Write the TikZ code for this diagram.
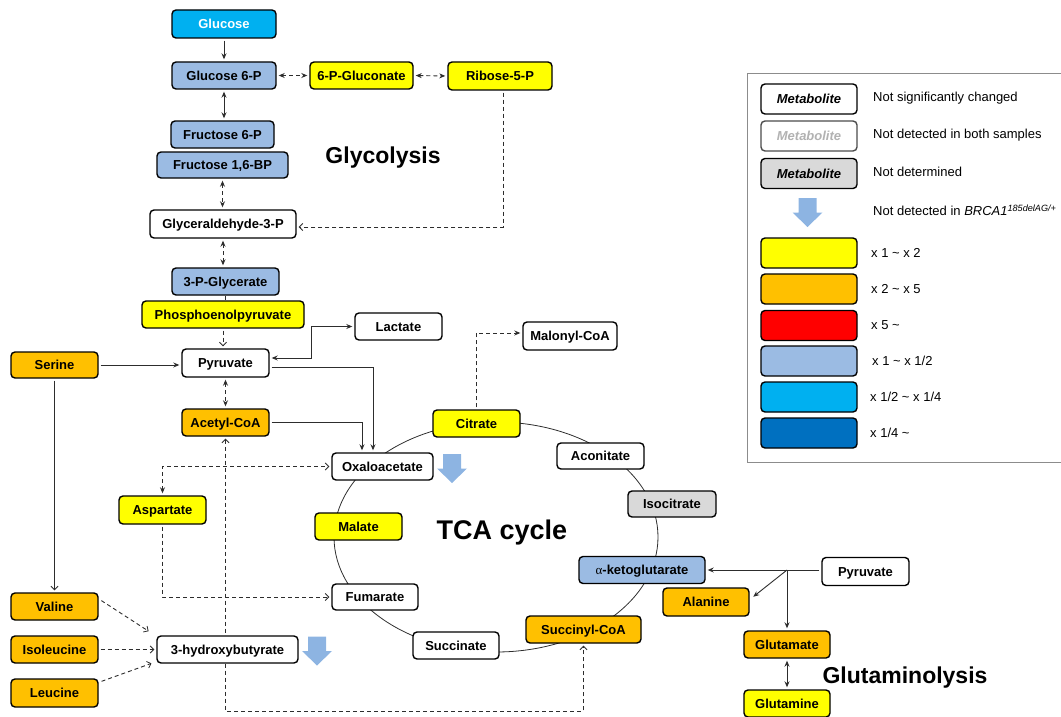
\documentclass[tikz,border=0pt]{standalone}
\usepackage{fontspec}
\setmainfont{Liberation Sans}
\newfontfamily\symf{Liberation Serif}
\usetikzlibrary{arrows.meta,calc}
\pgfdeclarelayer{background}
\pgfsetlayers{background,main}
\definecolor{cyanb}{RGB}{0,176,240}
\definecolor{lblue}{RGB}{155,187,227}
\definecolor{dblue}{RGB}{0,112,192}
\definecolor{orng}{RGB}{255,192,0}
\definecolor{ylw}{RGB}{255,255,0}
\definecolor{gry}{RGB}{217,217,217}
\definecolor{arrblue}{RGB}{141,180,226}
\definecolor{linec}{RGB}{45,45,45}
\tikzset{
  tf/.tip={Stealth[length=6pt,width=5pt]},
  opn/.tip={Straight Barb[length=3.5pt,width=7pt,line width=0.8pt]},
  bluearrow/.pic={\fill[arrblue] (-9,-14.5) -- (9,-14.5) -- (9,0) -- (15,0) -- (0,14.5) -- (-15,0) -- (-9,0) -- cycle;}
}
\begin{document}
\begin{tikzpicture}[x=1pt,y=-1pt,
  met/.style={draw=black, line width=1.4pt, rounded corners=4pt, minimum height=27pt,
    inner sep=0pt, text height=9.4pt, text depth=0pt, fill=white,
    font=\fontsize{13}{15}\selectfont\bfseries},
  yl/.style={met, fill=ylw},
  og/.style={met, fill=orng},
  lb/.style={met, fill=lblue},
  sol/.style={draw=linec, line width=0.9pt, shorten >=2pt, shorten <=2pt},
  dsh/.style={sol, dash pattern=on 4pt off 3pt},
  lgt/.style={anchor=west, inner sep=0pt, font=\fontsize{13}{15}\selectfont},
  ttl/.style={anchor=base, inner sep=0pt}
]
\useasboundingbox (0,0) rectangle (1061,717);

% ---- nodes ----
\node[met, fill=cyanb, text=white, minimum width=104pt, minimum height=28pt] (glc) at (224,24) {Glucose};
\node[lb, minimum width=104pt] (g6p) at (224,75.5) {Glucose 6-P};
\node[yl, minimum width=103pt] (pg6) at (361.5,75.5) {6-P-Gluconate};
\node[yl, minimum width=104pt, minimum height=28pt] (r5p) at (500,76) {Ribose-5-P};
\node[lb, minimum width=103pt] (f6p) at (222.5,134.5) {Fructose 6-P};
\node[lb, minimum width=131pt, minimum height=26pt] (f16) at (222.5,165) {Fructose 1,6-BP};
\node[met, minimum width=146pt, minimum height=28pt] (ga3p) at (223,224) {Glyceraldehyde-3-P};
\node[lb, minimum width=107pt] (pg3) at (225.5,281.5) {3-P-Glycerate};
\node[yl, minimum width=162pt] (pep) at (223,314.5) {Phosphoenolpyruvate};
\node[met, minimum width=87pt] (lac) at (398.5,326.5) {Lactate};
\node[met, minimum width=94pt, minimum height=28pt] (mal) at (570,336) {Malonyl-CoA};
\node[og, minimum width=87pt, minimum height=26pt] (ser) at (54.5,365) {Serine};
\node[met, minimum width=87pt, minimum height=28pt] (pyr) at (225.5,363) {Pyruvate};
\node[og, minimum width=87pt] (acoa) at (225.5,422.5) {Acetyl-CoA};
\node[yl, minimum width=87pt] (cit) at (476.5,423.5) {Citrate};
\node[met, minimum width=101pt] (oaa) at (382.5,466.5) {Oxaloacetate};
\node[met, minimum width=87pt, minimum height=26pt] (aco) at (600.5,456) {Aconitate};
\node[met, fill=gry, minimum width=88pt, minimum height=26pt] (ico) at (672,504) {Isocitrate};
\node[yl, minimum width=87pt, minimum height=28pt] (asp) at (162.5,510) {Aspartate};
\node[yl, minimum width=87pt] (mlt) at (358.5,526.5) {Malate};
\node[met, minimum width=86pt, minimum height=26pt] (fum) at (375,597) {Fumarate};
\node[met, minimum width=86pt] (suc) at (456,645.5) {Succinate};
\node[og, minimum width=115pt] (sca) at (583.5,629.5) {Succinyl-CoA};
\node[lb, minimum width=126pt] (akg) at (642,570) {{\symf\mdseries α}-ketoglutarate};
\node[met, minimum width=87pt, minimum height=28pt] (pyr2) at (865.5,571.5) {Pyruvate};
\node[og, minimum width=86pt, minimum height=28pt] (ala) at (706,602) {Alanine};
\node[og, minimum width=86pt] (glu) at (787,644.5) {Glutamate};
\node[yl, minimum width=86pt] (gln) at (787,703.5) {Glutamine};
\node[og, minimum width=87pt] (val) at (54.5,606.5) {Valine};
\node[og, minimum width=87pt] (ile) at (54.5,649.5) {Isoleucine};
\node[og, minimum width=87pt, minimum height=28pt] (leu) at (54.5,693) {Leucine};
\node[met, minimum width=141pt] (hb3) at (227.5,649.5) {3-hydroxybutyrate};

% ---- titles ----
\node[ttl, font=\fontsize{23}{27}\selectfont\bfseries] (tglyc) at (383,163) {Glycolysis};
\node[ttl, font=\fontsize{27}{31}\selectfont\bfseries] (ttca) at (502,539) {TCA cycle};
\node[ttl, font=\fontsize{23}{27}\selectfont\bfseries] (tglut) at (905,683) {Glutaminolysis};

% ---- blue arrows ----
\pic at (452,468.5) {bluearrow};
\pic at (317,651) {bluearrow};

% ---- connectors ----
\begin{pgfonlayer}{background}
\draw[linec, line width=0.8pt] (496,537) ellipse [x radius=162pt, y radius=115pt];
\draw[sol,-tf] (glc) -- (g6p);
\draw[sol,tf-tf] (g6p.south) -- (g6p.south |- f6p.north);
\draw[dsh,tf-tf] (f16.south) -- (f16.south |- ga3p.north);
\draw[dsh,tf-tf] (ga3p.south) -- (ga3p.south |- pg3.north);
\draw[sol, shorten >=0pt, shorten <=0pt] (pg3.south) -- (pg3.south |- pep.north);
\draw[dsh,-opn] (pep.south) -- (pep.south |- pyr.north);
\draw[dsh,tf-tf] (pyr.south) -- (pyr.south |- acoa.north);
\draw[dsh,tf-tf] (g6p.east) -- (pg6.west);
\draw[dsh,tf-tf] (pg6.east) -- (r5p.west);
\draw[dsh,-opn] ([xshift=3pt]r5p.south) |- ([yshift=-3pt]ga3p.east);
\draw[sol,tf-tf] (pyr.east |- 0,358) -| ($(lac.west)+(-43,0)$) -- (lac.west);
\draw[sol,-tf] (pyr.east |- 0,367) -| ([xshift=-9.5pt]oaa.north);
\draw[sol,-tf] (acoa.east) -| ([xshift=-20.5pt]oaa.north);
\draw[sol,-tf] (ser.east) -- (ser.east -| pyr.west);
\draw[sol,-opn] (ser.south) -- (ser.south |- val.north);
\draw[dsh,-tf] (cit.north) |- ([yshift=3pt]mal.west);
\draw[dsh,tf-opn] (asp.north) |- (oaa.west);
\draw[dsh,-opn] (asp.south) |- (fum.west);
\draw[dsh,opn-opn] (acoa.south) -- (acoa.south |- 0,711) -| (sca.south);
\draw[dsh,-opn] ($(val.east)+(1,-7)$) -- ($(hb3.north west)+(-6,-3)$);
\draw[dsh,-opn] (ile.east) -- (hb3.west);
\draw[dsh,-opn] ($(leu.east)+(1,-11)$) -- ($(hb3.south west)+(-3,-1)$);
\coordinate (br) at (787,570);
\draw[sol,-tf] (pyr2.west |- br) -- (akg.east |- br);
\draw[sol,-tf, shorten <=0pt] (br) -- (glu.north);
\draw[sol,-tf, shorten <=0pt] (br) -- ($(ala.east)+(2,-4)$);
\draw[sol,tf-tf] (glu.south) -- (gln.north);
\end{pgfonlayer}

% ---- legend ----
\draw[draw=black!45, line width=1pt] (747,74) rectangle (1075,462);
\node[met, minimum width=96pt, minimum height=30pt, font=\fontsize{13}{15}\selectfont\bfseries\itshape] (lg1) at (809,99) {Metabolite};
\node[met, minimum width=96pt, minimum height=30pt, draw=black!70, text=black!30, font=\fontsize{13}{15}\selectfont\bfseries\itshape] (lg2) at (809,136) {Metabolite};
\node[met, fill=gry, minimum width=96pt, minimum height=30pt, font=\fontsize{13}{15}\selectfont\bfseries\itshape] (lg3) at (809,173.5) {Metabolite};
\pic at (807.5,212.5) {bluearrow};
\node[met, fill=ylw, minimum width=96pt, minimum height=30pt] (k1) at (809,253) {};
\node[met, fill=orng, minimum width=96pt, minimum height=30pt] (k2) at (809,289) {};
\node[met, fill=red, minimum width=96pt, minimum height=30pt] (k3) at (809,325.5) {};
\node[met, fill=lblue, minimum width=96pt, minimum height=30pt] (k4) at (809,361) {};
\node[met, fill=cyanb, minimum width=96pt, minimum height=30pt] (k5) at (809,397) {};
\node[met, fill=dblue, minimum width=96pt, minimum height=30pt] (k6) at (809,433) {};
\node[lgt] (t1) at (873,98) {Not significantly changed};
\node[lgt] (t2) at (873,135) {Not detected in both samples};
\node[lgt] (t3) at (873,172) {Not determined};
\node[lgt] (t4) at (873,210) {Not detected in \textit{BRCA1}\textsuperscript{\textit{185delAG/+}}};
\node[lgt] (t5) at (871,253) {x 1 \textasciitilde{} x 2};
\node[lgt] (t6) at (871,289) {x 2 \textasciitilde{} x 5};
\node[lgt] (t7) at (871,325) {x 5 \textasciitilde};
\node[lgt] (t8) at (872,361) {x 1 \textasciitilde{} x 1/2};
\node[lgt] (t9) at (870,397) {x 1/2 \textasciitilde{} x 1/4};
\node[lgt] (t10) at (870,433) {x 1/4 \textasciitilde};
\end{tikzpicture}
\end{document}
